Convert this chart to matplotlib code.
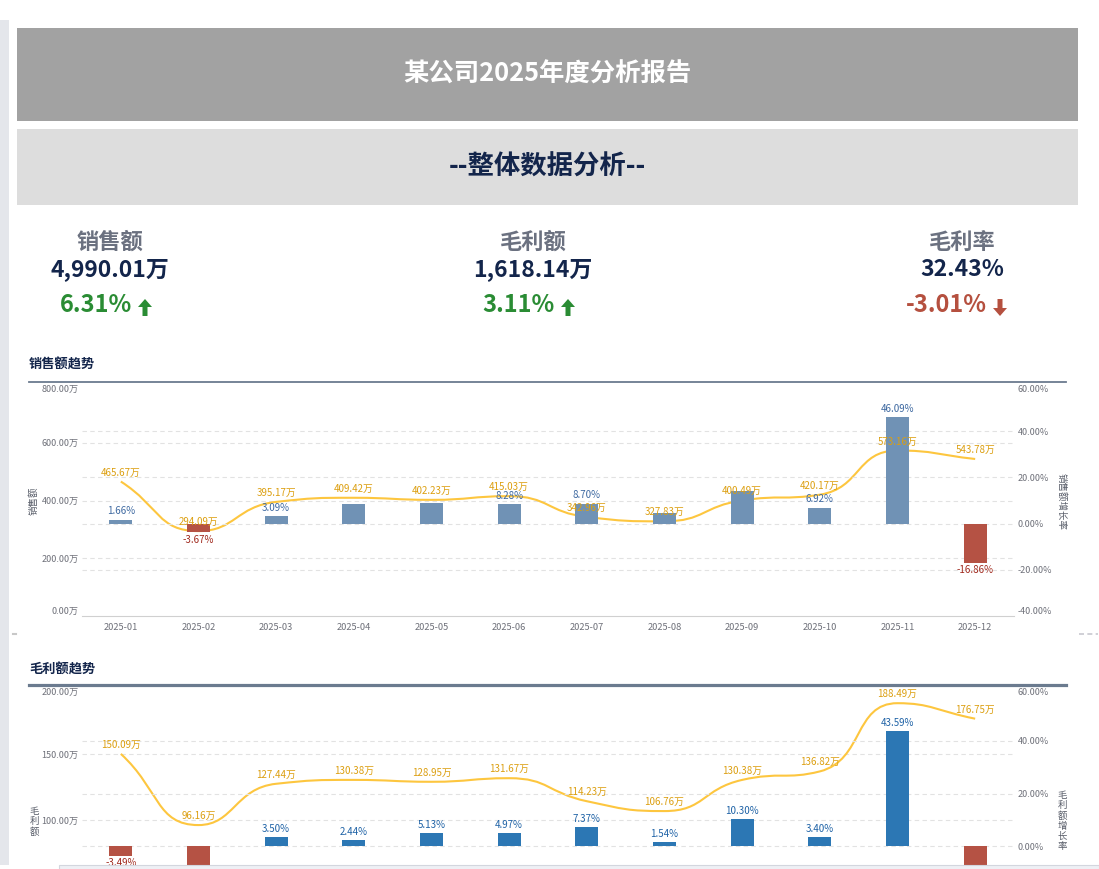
import numpy as np
import matplotlib
matplotlib.use('Agg')
import matplotlib.pyplot as plt
from matplotlib.path import Path
from matplotlib.patches import PathPatch, Rectangle, Polygon
from matplotlib.lines import Line2D

plt.rcParams['font.family'] = ['Noto Sans CJK SC', 'DejaVu Sans']

# ---- data ----
months = ['2025-01', '2025-02', '2025-03', '2025-04', '2025-05', '2025-06',
          '2025-07', '2025-08', '2025-09', '2025-10', '2025-11', '2025-12']

sales = [465.67, 294.09, 395.17, 409.42, 402.23, 415.03,
         342.96, 327.83, 400.49, 420.17, 573.16, 543.78]
sales_growth = [1.66, -3.67, 3.09, 8.50, 9.10, 8.28,
                8.70, 4.50, 14.30, 6.92, 46.09, -16.86]
sales_hidden = [3, 4, 7, 8]   # bar labels hidden behind line labels

profit = [150.09, 96.16, 127.44, 130.38, 128.95, 131.67,
          114.23, 106.76, 130.38, 136.82, 188.49, 176.75]
profit_growth = [-3.49, -12.80, 3.50, 2.44, 5.13, 4.97,
                 7.37, 1.54, 10.30, 3.40, 43.59, -18.40]

kpi_names = ['销售额', '毛利额', '毛利率']
kpi_values = ['4,990.01万', '1,618.14万', '32.43%']
kpi_changes = [6.31, 3.11, -3.01]

W, H = 1099, 869
VIEW_BOTTOM = 865   # page is scrolled: everything below this is out of view
fig = plt.figure(figsize=(W / 100, H / 100), dpi=100)


def fx(x):
    return x / W


def fy(y):
    return 1 - y / H


def rect(x0, y0, x1, y1, color, z=1, **kw):
    fig.add_artist(Rectangle((fx(x0), fy(y1)), (x1 - x0) / W, (y1 - y0) / H,
                             transform=fig.transFigure, facecolor=color,
                             edgecolor=kw.pop('ec', 'none'), zorder=z, **kw))


def hline(x0, x1, y, color, lw, **kw):
    fig.add_artist(Line2D([fx(x0), fx(x1)], [fy(y), fy(y)], transform=fig.transFigure,
                          color=color, lw=lw, **kw))


def smooth_path(ax, xs, ys, s=0.5):
    # echarts-like smooth curve through the points
    pts = ax.transData.transform(np.column_stack([xs, ys]))
    n = len(pts)
    cin = pts.copy()
    cout = pts.copy()
    for i in range(n):
        p = pts[i]
        prev = pts[i - 1] if i > 0 else p
        nxt = pts[i + 1] if i < n - 1 else p
        v = (nxt - prev) * s
        d0 = np.hypot(*(p - prev))
        d1 = np.hypot(*(nxt - p))
        if d0 + d1 == 0:
            continue
        r = d1 / (d0 + d1)
        co = np.clip(p + v * r, np.minimum(p, nxt), np.maximum(p, nxt))
        if d0 > 0 and d1 > 0:
            ci = p - (co - p) * d0 / d1
            ci = np.clip(ci, np.minimum(p, prev), np.maximum(p, prev))
            co = p + (p - ci) * d1 / d0
        else:
            ci = np.clip(p - v * (1 - r), np.minimum(p, prev), np.maximum(p, prev))
        cin[i] = ci
        cout[i] = co
    verts = [pts[0]]
    codes = [Path.MOVETO]
    for i in range(n - 1):
        verts += [cout[i], cin[i + 1], pts[i + 1]]
        codes += [Path.CURVE4] * 3
    verts = ax.transData.inverted().transform(np.array(verts))
    return Path(verts, codes)


# ---- page background pieces ----
rect(0, 20, 8.5, 865, '#e4e6eb')
rect(17, 28, 1078, 121, '#a2a2a2')
rect(17, 129, 1078, 205, '#dddddd')
fig.text(fx(547.5), fy(74), '某公司2025年度分析报告', color='white', fontsize=18.3,
         fontweight='bold', ha='center', va='center')
fig.text(fx(547.5), fy(167), '--整体数据分析--', color='#13254b', fontsize=19,
         fontweight='bold', ha='center', va='center')

# ---- KPI cards ----
kpi_x = [110, 533, 962]
chg_right = [132, 555, 987]
for name, val, chg, cx, cr in zip(kpi_names, kpi_values, kpi_changes, kpi_x, chg_right):
    fig.text(fx(cx), fy(242), name, color='#6b7180', fontsize=16, fontweight='bold',
             ha='center', va='center')
    fig.text(fx(cx), fy(270), val, color='#13254b', fontsize=16.5, fontweight='bold',
             ha='center', va='center')
    col = '#2a8c34' if chg >= 0 else '#b5503f'
    fig.text(fx(cr), fy(305), f'{chg:.2f}%', color=col, fontsize=17, fontweight='bold',
             ha='right', va='center')
    ax0 = cr + 6
    if chg >= 0:
        pts = [(ax0 + 7, 299), (ax0 + 14, 307), (ax0 + 9.5, 307), (ax0 + 9.5, 316),
               (ax0 + 4.5, 316), (ax0 + 4.5, 307), (ax0, 307)]
    else:
        pts = [(ax0 + 7, 316), (ax0 + 14, 308), (ax0 + 9.5, 308), (ax0 + 9.5, 299),
               (ax0 + 4.5, 299), (ax0 + 4.5, 308), (ax0, 308)]
    fig.add_artist(Polygon([(fx(a), fy(b)) for a, b in pts], closed=True,
                           transform=fig.transFigure, facecolor=col, edgecolor='none'))

# ---- separators ----
fig.add_artist(Line2D([fx(13), fx(16)], [fy(633.5)] * 2, transform=fig.transFigure,
                      color='#c8c8c8', lw=1.5))
fig.add_artist(Line2D([fx(1079), fx(1098)], [fy(633.5)] * 2, transform=fig.transFigure,
                      color='#c8c8d0', lw=1.2, ls=(0, (3, 2))))

line_col = '#fdc63f'
line_lab = '#dc9f10'
red = '#b55244'
red_lab = '#a0291d'
grid_kw = dict(color='#e2e2e2', lw=0.8, ls=(0, (4, 3)), zorder=0.5)
tick_col = '#6e7079'


def in_view(ax, x, y, dy_pt):
    py = ax.transData.transform((x, y))[1] + dy_pt * 100 / 72
    return (H - py) < VIEW_BOTTOM


def trend_chart(top, bottom, ytitle, vals, growth, lmax, lticks, lgrid, rgrid,
                bar_col, bar_lab, hidden, title, title_y, hdr_y, hdr_lw, stacked):
    x0, x1 = 82, 1014
    fig.text(fx(29), fy(title_y), title, color='#13254b', fontsize=9.5,
             fontweight='bold', ha='left', va='center')
    hline(28.5, 1066, hdr_y, '#6b7b8f', hdr_lw)
    ax = fig.add_axes([fx(x0), fy(bottom), (x1 - x0) / W, (bottom - top) / H])
    ax2 = ax.twinx()
    idx = np.arange(len(months))
    ax.set_xlim(-0.5, len(months) - 0.5)
    ax.set_ylim(0, lmax)
    ax2.set_ylim(-40, 60)
    for a in (ax, ax2):
        for sp in a.spines.values():
            sp.set_visible(False)
        a.patch.set_visible(False)
    ax.spines['bottom'].set_visible(True)
    ax.spines['bottom'].set_color('#d0d0d0')
    ax.set_xticks(idx)
    if bottom < VIEW_BOTTOM:
        ax.set_xticklabels(months, fontsize=6.7, color=tick_col)
    else:
        ax.set_xticklabels([])
    ax.tick_params(axis='x', length=0, pad=5)

    # only the ticks that are on screen get a label
    lt = [t for t in lticks if (bottom - (bottom - top) * t / lmax) < VIEW_BOTTOM]
    ax.set_yticks(lt)
    ax.set_yticklabels([f'{t:.2f}万' for t in lt], fontsize=6.5, color=tick_col)
    ax.tick_params(axis='y', length=0, pad=2.5)
    rt = [t for t in [-40, -20, 0, 20, 40, 60]
          if (bottom - (bottom - top) * (t + 40) / 100) < VIEW_BOTTOM]
    ax2.set_yticks(rt)
    ax2.set_yticklabels([f'{t:.2f}%' for t in rt], fontsize=6.5, color=tick_col)
    ax2.tick_params(axis='y', length=0, pad=2.5)
    ll = ax.get_yticklabels()
    if lt[0] == 0:
        ll[0].set_va('bottom')
    ll[-1].set_va('top')
    rl = ax2.get_yticklabels()
    if rt[0] == -40:
        rl[0].set_va('bottom')
    rl[-1].set_va('top')
    for g in lgrid:
        ax.axhline(g, **grid_kw)
    for g in rgrid:
        ax2.axhline(g, **grid_kw)

    path = smooth_path(ax, idx, vals)
    ax.add_patch(PathPatch(path, fill=False, edgecolor=line_col, lw=1.5, zorder=2))

    cols = [bar_col if g >= 0 else red for g in growth]
    ax2.bar(idx, growth, width=0.3, color=cols, zorder=3)

    for i, v in enumerate(vals):
        ax2.annotate(f'{v:.2f}万', xy=(i, v), xycoords=ax.transData, xytext=(0, 6.5),
                     textcoords='offset points', ha='center', va='center',
                     fontsize=7, color=line_lab, zorder=5, annotation_clip=False)
    for i, g in enumerate(growth):
        off = 6 if g >= 0 else -5.5
        if i in hidden or not in_view(ax2, i, g, off + 3):
            continue
        ax2.annotate(f'{g:.2f}%', xy=(i, g), xytext=(0, off),
                     textcoords='offset points', ha='center', va='center',
                     fontsize=7, color=bar_lab if g >= 0 else red_lab, zorder=5,
                     annotation_clip=False)

    if stacked:
        fig.text(fx(34), fy(822), '\n'.join(ytitle), fontsize=6.8, color='#555a66',
                 ha='center', va='center', linespacing=1.15)
        fig.text(fx(1062), fy(821), '\n'.join(ytitle + '增长率'), fontsize=6.8,
                 color='#555a66', ha='center', va='center', linespacing=1.15)
    else:
        fig.text(fx(34), fy(501), ytitle, fontsize=6.8, color='#555a66', rotation=90,
                 ha='center', va='center')
        fig.text(fx(1062), fy(501), ytitle + '增长率', fontsize=6.8, color='#555a66',
                 rotation=-90, ha='center', va='center')
    return ax, ax2


trend_chart(385, 616, '销售额', sales, sales_growth, 800, [0, 200, 400, 600, 800],
            [200, 400, 600], [-20, 0, 20, 40], '#7092b5', '#3d68a0', sales_hidden,
            '销售额趋势', 365, 381.5, 1.3, False)
trend_chart(688, 952, '毛利额', profit, profit_growth, 200, [0, 50, 100, 150, 200],
            [50, 100, 150], [-20, 0, 20, 40], '#2c77b4', '#1e62a6', [],
            '毛利额趋势', 670, 685, 2.3, True)

# bottom scrollbar strip
rect(59, 865, 1099, 869.5, '#eef0f5', z=10, ec='#d3d6de', lw=0.8)

fig.savefig('out.png', dpi=100)
